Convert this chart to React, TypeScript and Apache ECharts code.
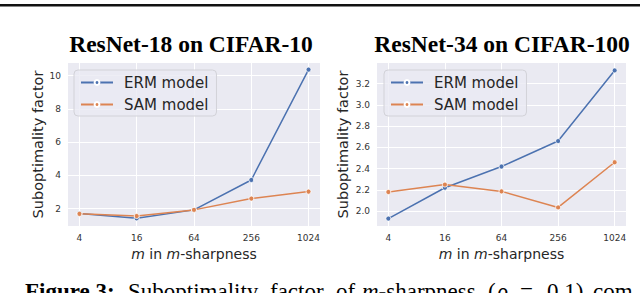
import React, { useEffect, useRef } from "react";
import * as echarts from "echarts";

const categories = ["4", "16", "64", "256", "1024"];
const ermLeft = [1.7, 1.41, 1.92, 3.72, 10.36];
const samLeft = [1.68, 1.55, 1.92, 2.6, 3.02];
const ermRight = [1.93, 2.22, 2.42, 2.66, 3.325];
const samRight = [2.18, 2.25, 2.186, 2.035, 2.46];
const leftTicks = [2, 4, 6, 8, 10];
const rightTicks = [2.0, 2.2, 2.4, 2.6, 2.8, 3.0, 3.2];
const titles = ["ResNet-18 on CIFAR-10", "ResNet-34 on CIFAR-100"];
const seriesNames = ["ERM model", "SAM model"];
const captionWords = [
  "{b|Figure 3:}",
  "{r|Suboptimality}",
  "{r|factor}",
  "{r|of}",
  "{i|m}{r|-sharpness}",
  "{r|(}",
  "{i|ρ}",
  "{r|=}",
  "{r|0.1)}",
  "{r|com}",
];
const captionX = [25, 128, 270, 336, 362, 488, 497, 520, 547, 593];

const BLUE = "#4C72B0";
const ORANGE = "#DD8452";
const SANS = "DejaVu Sans";
const SERIF = "Liberation Serif";

export default function App() {
  const ref = useRef<HTMLDivElement>(null);
  useEffect(() => {
    if (!ref.current) return;
    const chart = echarts.init(ref.current, null, { renderer: "svg" });
    const idx = categories.map((_, i) => i);
    const grids = [
      { left: 68, top: 63, width: 252, height: 163 },
      { left: 377, top: 63, width: 249, height: 163 },
    ];
    const mkX = (gi: number) => ({
      type: "value",
      gridIndex: gi,
      min: -0.2,
      max: 4.2,
      axisLine: { show: false },
      axisTick: { show: false, customValues: idx },
      splitLine: { show: true, lineStyle: { color: "#ffffff", width: 1 } },
      axisLabel: {
        customValues: idx,
        formatter: (v: number) => categories[Math.round(v)] ?? "",
        fontFamily: SANS,
        fontSize: 9,
        color: "#333",
        margin: 7,
      },
      name: "{i|m} in {i|m}-sharpness",
      nameLocation: "middle",
      nameGap: 19,
      nameTextStyle: {
        fontFamily: SANS,
        fontSize: 14,
        color: "#262626",
        rich: { i: { fontFamily: SANS, fontSize: 14, fontStyle: "italic", color: "#262626" } },
      },
    });
    const mkY = (gi: number, min: number, max: number, ticks: number[], dec: number, gap: number) => ({
      type: "value",
      gridIndex: gi,
      min,
      max,
      axisLine: { show: false },
      axisTick: { show: false, customValues: ticks },
      splitLine: { show: true, lineStyle: { color: "#ffffff", width: 1 } },
      axisLabel: {
        customValues: ticks,
        formatter: (v: number) => v.toFixed(dec),
        fontFamily: SANS,
        fontSize: 9,
        color: "#333",
        margin: 7,
      },
      name: "Suboptimality factor",
      nameLocation: "middle",
      nameGap: gap,
      nameTextStyle: { fontFamily: SANS, fontSize: 14.5, color: "#262626" },
    });
    const mkSeries = (name: string, vals: number[], color: string, gi: number) => ({
      name,
      type: "line",
      xAxisIndex: gi,
      yAxisIndex: gi,
      data: vals.map((v, i) => [i, v]),
      symbol: "circle",
      symbolSize: 5,
      showSymbol: true,
      lineStyle: { color, width: 1.5 },
      itemStyle: { color, borderColor: "#ffffff", borderWidth: 0.8 },
      emphasis: { disabled: true },
    });
    const mkLegend = (left: number) => ({
      left,
      top: 70,
      orient: "vertical",
      data: seriesNames,
      itemWidth: 32,
      itemHeight: 6,
      itemGap: 7,
      padding: [5, 8, 4, 6],
      backgroundColor: "rgba(234,234,242,0.8)",
      borderColor: "#d2d2d8",
      borderWidth: 1,
      borderRadius: 4,
      selectedMode: false,
      textStyle: { fontFamily: SANS, fontSize: 15, color: "#262626", padding: [0, 0, 0, 6] },
    });
    const rich = {
      b: { fontFamily: SERIF, fontWeight: "bold", fontSize: 23, lineHeight: 23, fill: "#000" },
      r: { fontFamily: SERIF, fontSize: 23, lineHeight: 23, fill: "#000" },
      i: { fontFamily: SERIF, fontStyle: "italic", fontSize: 23, lineHeight: 23, fill: "#000" },
    };
    chart.setOption({
      animation: false,
      backgroundColor: "#ffffff",
      title: [
        {
          text: titles[0],
          left: 186,
          top: 27,
          textAlign: "center",
          textStyle: { fontFamily: SERIF, fontWeight: "bold", fontSize: 23.5, color: "#000" },
        },
        {
          text: titles[1],
          left: 497,
          top: 27,
          textAlign: "center",
          textStyle: { fontFamily: SERIF, fontWeight: "bold", fontSize: 23.5, color: "#000" },
        },
      ],
      grid: grids.map((g) => ({
        ...g,
        show: true,
        backgroundColor: "#EAEAF2",
        borderWidth: 0,
      })),
      xAxis: [mkX(0), mkX(1)],
      yAxis: [mkY(0, 0.95, 10.76, leftTicks, 0, 23), mkY(1, 1.86, 3.395, rightTicks, 1, 27)],
      legend: [
        { ...mkLegend(74), data: seriesNames },
        { ...mkLegend(384), data: seriesNames },
      ],
      series: [
        mkSeries(seriesNames[0], ermLeft, BLUE, 0),
        mkSeries(seriesNames[1], samLeft, ORANGE, 0),
        mkSeries(seriesNames[0], ermRight, BLUE, 1),
        mkSeries(seriesNames[1], samRight, ORANGE, 1),
      ],
      graphic: [
        { type: "rect", shape: { x: 0, y: 4, width: 640, height: 2.5 }, style: { fill: "#111" } },
        ...captionWords.map((w, k) => ({
          type: "text",
          x: captionX[k],
          y: 280,
          z: 100,
          style: { text: w, fill: "#000", verticalAlign: "top", rich },
        })),
      ],
    });
    return () => chart.dispose();
  }, []);
  return <div ref={ref} style={{ width: 640, height: 293, position: "absolute", left: 0, top: 0 }} />;
}
